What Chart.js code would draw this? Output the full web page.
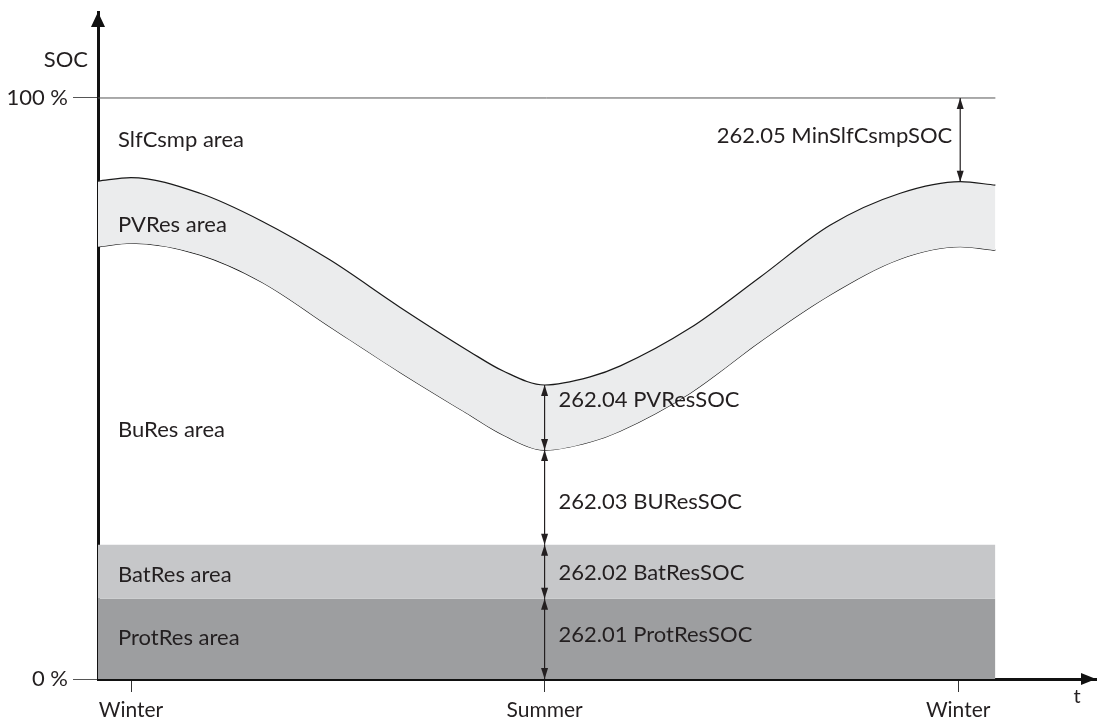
<!DOCTYPE html>
<html>
<head>
<meta charset="utf-8">
<script src="https://cdn.jsdelivr.net/npm/chart.js@4.4.1/dist/chart.umd.min.js"></script>
<style>
html, body { margin: 0; padding: 0; background: #fff; }
#wrap { width: 1097px; height: 722px; position: relative; }
</style>
</head>
<body>
<div id="wrap"><canvas id="chart"></canvas></div>
<script>
// x in months from the first winter: 0 = Winter, 6 = Summer, 12 = Winter
const seasonTicks = [0, 6, 12]
const seasonLabels = ['Winter', 'Summer', 'Winter']
const socTicks = [0, 100]

const curveX = [-0.48, 0, 1.0, 1.9, 2.89, 3.9, 4.92, 5.4, 6, 6.66, 7.1, 8.11, 9.13, 10.14, 11.16, 12.03, 12.54]
const pvResTop = [85.7, 86.3, 83.6, 78.8, 72.1, 64.0, 56.3, 53.0, 50.6, 52.0, 53.9, 60.4, 69.2, 78.1, 83.6, 85.6, 85.0]
const pvResBottom = [74.4, 75.0, 73.0, 68.3, 60.6, 52.8, 45.4, 42.0, 39.4, 40.8, 42.7, 49.2, 58.1, 66.1, 72.3, 74.4, 73.8]

const bandX = [-0.48, 12.54]
const fullSOC = 100
const batResSOC = 23.1
const protResSOC = 13.8

const areaNames = ['SlfCsmp area', 'PVRes area', 'BuRes area', 'BatRes area', 'ProtRes area']
const paramNames = ['262.05 MinSlfCsmpSOC', '262.04 PVResSOC', '262.03 BUResSOC', '262.02 BatResSOC', '262.01 ProtResSOC']

const ink = '#231f20'
const font = 'Lato, "Open Sans", sans-serif'

const pts = (xs, ys) => xs.map((x, i) => ({ x: x, y: ys[i] }))

function head(ctx, x, y, dx, dy) {
    // filled arrow head with tip at (x, y), pointing along (dx, dy)
    const len = 11, half = 3.5
    ctx.beginPath()
    ctx.moveTo(x, y)
    ctx.lineTo(x - dx * len - dy * half, y - dy * len - dx * half)
    ctx.lineTo(x - dx * len + dy * half, y - dy * len + dx * half)
    ctx.closePath()
    ctx.fill()
}

function dimension(ctx, px, y1, y2) {
    ctx.beginPath()
    ctx.moveTo(px, y1)
    ctx.lineTo(px, y2)
    ctx.stroke()
    const d = y2 > y1 ? 1 : -1
    head(ctx, px, y1, 0, -d)
    head(ctx, px, y2, 0, d)
}

const decorations = {
    id: 'decorations',
    afterDraw(chart) {
        const { ctx, chartArea } = chart
        const x = chart.scales.x, y = chart.scales.y
        ctx.save()
        ctx.fillStyle = ink
        ctx.strokeStyle = ink
        ctx.lineWidth = 1.2

        // axis arrows
        ctx.fillStyle = '#111'
        ctx.beginPath()
        ctx.moveTo(chartArea.left, chartArea.top)
        ctx.lineTo(chartArea.left - 7, chartArea.top + 15)
        ctx.lineTo(chartArea.left + 7, chartArea.top + 15)
        ctx.closePath()
        ctx.fill()
        ctx.beginPath()
        ctx.moveTo(chartArea.right, chartArea.bottom)
        ctx.lineTo(chartArea.right - 15, chartArea.bottom - 6)
        ctx.lineTo(chartArea.right - 15, chartArea.bottom + 6)
        ctx.closePath()
        ctx.fill()
        ctx.fillStyle = ink

        // dimension arrows
        const summer = curveX.indexOf(6), winter = curveX.indexOf(12.03)
        const s = x.getPixelForValue(6), w = x.getPixelForValue(12.03)
        dimension(ctx, w, y.getPixelForValue(fullSOC), y.getPixelForValue(pvResTop[winter]))
        dimension(ctx, s, y.getPixelForValue(pvResTop[summer]), y.getPixelForValue(pvResBottom[summer]))
        dimension(ctx, s, y.getPixelForValue(pvResBottom[summer]), y.getPixelForValue(batResSOC))
        dimension(ctx, s, y.getPixelForValue(batResSOC), y.getPixelForValue(protResSOC))
        dimension(ctx, s, y.getPixelForValue(protResSOC), y.getPixelForValue(0))

        ctx.font = '22px ' + font
        ctx.textBaseline = 'middle'

        // area names
        ctx.textAlign = 'left'
        const areaY = [92.8, 78.1, 42.9, 17.9, 7.1]
        areaNames.forEach((t, i) => ctx.fillText(t, chartArea.left + 20, y.getPixelForValue(areaY[i])))

        // parameter names
        const paramY = [93.5, 48.0, 30.5, 18.2, 7.6]
        ctx.textAlign = 'right'
        ctx.fillText(paramNames[0], w - 8, y.getPixelForValue(paramY[0]))
        ctx.textAlign = 'left'
        for (let i = 1; i < paramNames.length; i++) {
            ctx.fillText(paramNames[i], s + 14, y.getPixelForValue(paramY[i]))
        }

        // axis titles
        ctx.textAlign = 'right'
        ctx.fillText('SOC', chartArea.left - 10, y.getPixelForValue(106.5))
        ctx.textAlign = 'center'
        ctx.font = '20px ' + font
        ctx.fillText('t', chartArea.right - 19, chartArea.bottom + 18)
        ctx.restore()
    }
}

new Chart(document.getElementById('chart'), {
    type: 'line',
    data: {
        datasets: [
            {
                data: pts(curveX, pvResTop),
                borderColor: '#1a1a1a', borderWidth: 1.2,
                backgroundColor: '#ebeced', fill: '+1',
                cubicInterpolationMode: 'monotone', pointRadius: 0,
            },
            {
                data: pts(curveX, pvResBottom),
                borderColor: '#1a1a1a', borderWidth: 1.2, fill: false,
                cubicInterpolationMode: 'monotone', pointRadius: 0,
            },
            {
                data: pts(bandX, [batResSOC, batResSOC]),
                borderWidth: 0, borderColor: 'rgba(0,0,0,0)',
                backgroundColor: '#c6c7c9', fill: '+1', pointRadius: 0,
            },
            {
                data: pts(bandX, [protResSOC, protResSOC]),
                borderWidth: 0, borderColor: 'rgba(0,0,0,0)',
                backgroundColor: '#9d9ea0', fill: 'origin', pointRadius: 0,
            },
            {
                data: pts(bandX, [fullSOC, fullSOC]),
                borderColor: '#555', borderWidth: 1, fill: false, pointRadius: 0,
            },
        ]
    },
    options: {
        responsive: true,
        maintainAspectRatio: false,
        animation: false,
        layout: { padding: { top: 12, right: 1, left: 0, bottom: 0 } },
        plugins: { legend: { display: false }, tooltip: { enabled: false } },
        scales: {
            x: {
                type: 'linear', min: -0.479, max: 14.0,
                afterBuildTicks: (sc) => { sc.ticks = seasonTicks.map(v => ({ value: v })) },
                afterFit: (sc) => { sc.height = 43 },
                ticks: {
                    callback: (v) => seasonLabels[seasonTicks.indexOf(v)],
                    color: ink, font: { family: font, size: 21 }, padding: 6,
                    maxRotation: 0, autoSkip: false,
                },
                grid: { drawOnChartArea: false, drawTicks: true, tickLength: 13, color: '#333', lineWidth: 1 },
                border: { display: true, color: '#111', width: 3 },
            },
            y: {
                type: 'linear', min: 0, max: 114.8,
                afterBuildTicks: (sc) => { sc.ticks = socTicks.map(v => ({ value: v })) },
                afterFit: (sc) => { sc.width = 98 },
                ticks: {
                    callback: (v) => v + ' %',
                    color: ink, font: { family: font, size: 22, lineHeight: 0.5 }, padding: 5,
                },
                grid: { drawOnChartArea: false, drawTicks: true, tickLength: 25, color: '#555', lineWidth: 1 },
                border: { display: true, color: '#111', width: 3 },
            }
        }
    },
    plugins: [decorations]
})
</script>
</body>
</html>
